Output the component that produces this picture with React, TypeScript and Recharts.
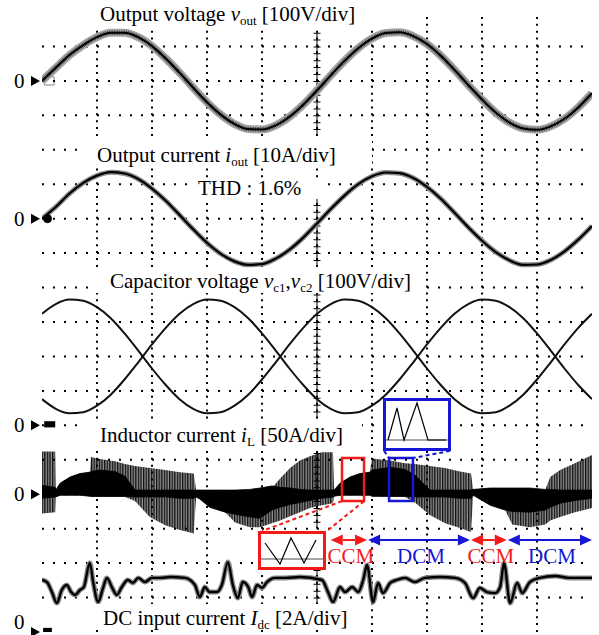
import React from "react";
import {
  ComposedChart,
  LineChart,
  Line,
  Area,
  XAxis,
  YAxis,
  ReferenceLine,
  ReferenceArea,
  ReferenceDot,
} from "recharts";

// scope screen: 10 x 18 divisions
const X_DIVS = 10;
const Y_DIVS = 18;
const SINE_STEP = 0.25; // div between samples of the sine traces

// channel zero markers (div from bottom) and scale per div
const ZERO_VOUT = 16;
const ZERO_IOUT = 12;
const ZERO_VC = 6;
const ZERO_IL = 4;
const ZERO_IDC = 0;
const VOUT_PER_DIV = 100; // V
const IOUT_PER_DIV = 10; // A
const VC_PER_DIV = 100; // V
const IL_PER_DIV = 50; // A
const IDC_PER_DIV = 2; // A

// output voltage v_out [V], one value every 0.25 div
const vout = [0, 38, 75, 104, 127, 140, 140, 127, 101, 65, 24, -20, -62, -98, -125, -140, -141, -129, -104, -69, -28, 16, 58, 95, 123, 139, 141, 130, 107, 73, 32, -12, -54, -92, -121, -138, -142, -132, -110, -77, -36];
// output current i_out [A]
const iout = [0, 3.4, 7.3, 10.4, 12.5, 13.5, 13.1, 11.5, 8.7, 5.2, 1.1, -3.1, -7.0, -10.2, -12.4, -13.4, -13.2, -11.6, -9.0, -5.5, -1.4, 2.8, 6.7, 10.0, 12.3, 13.4, 13.2, 11.8, 9.2, 5.8, 1.7, -2.5, -6.4, -9.7, -12.1, -13.4, -13.3, -12.0, -9.5, -6.1, -2.1];
// capacitor voltages [V]
const vc1 = [324, 352, 365, 362, 343, 311, 267, 217, 165, 117, 76, 48, 35, 38, 57, 89, 133, 183, 235, 283, 324, 352, 365, 362, 343, 311, 267, 217, 165, 117, 76, 48, 35, 38, 57, 89, 133, 183, 235, 283, 324];
const vc2 = [76, 48, 35, 38, 57, 89, 133, 183, 235, 283, 324, 352, 365, 362, 343, 311, 267, 217, 165, 117, 76, 48, 35, 38, 57, 89, 133, 183, 235, 283, 324, 352, 365, 362, 343, 311, 267, 217, 165, 117, 76];

// inductor current i_L [A]: switching envelope and dense core, at these times (div)
const iLx = [0, 0.24, 0.25, 0.33, 0.51, 0.69, 0.87, 0.89, 1.05, 1.33, 1.51, 1.69, 1.96, 2.24, 2.51, 2.76, 2.8, 2.87, 3.05, 3.33, 3.51, 3.78, 3.96, 4.18, 4.33, 4.51, 4.69, 4.87, 5.09, 5.29, 5.31, 5.42, 5.6, 5.78, 5.96, 6.0, 6.33, 6.6, 6.78, 7.05, 7.33, 7.6, 7.8, 7.84, 8.15, 8.42, 8.55, 8.87, 9.15, 9.24, 9.42, 9.69, 10];
const iLhi = [62, 62, 6, 16, 25, 30, 32, 54, 51, 48, 44, 41, 38, 35, 32, 30, 6, 6, 6, 6, 6, 6, 7, 9, 23, 38, 49, 55, 61, 61, 6, 16, 25, 30, 32, 52, 49, 45, 44, 41, 38, 33, 30, 7, 9, 9, 9, 7, 6, 25, 35, 45, 57];
const iLlo = [-28, -26, -4, -1.5, -1.5, -1.5, -3, -4, -4, -4, -4, -10, -33, -45, -52, -57, -4, -7, -19, -26, -41, -48, -48, -42, -38, -32, -26, -20, -16, -13, -3, -1.5, -1.5, -1.5, -1.5, -3, -4, -4, -12, -30, -42, -49, -55, -1.5, -16, -23, -44, -48, -44, -38, -33, -26, -20];
const iLcoreHi = [13, 10, 6, 16, 25, 30, 32, 33, 35, 33, 26, 6, 6, 6, 6, 6, 6, 6, 6, 6, 6, 7, 9, 12, 10, 9, 7, 6, 6, 6, 6, 16, 25, 30, 32, 35, 39, 36, 28, 6, 6, 6, 6, 7, 9, 9, 9, 9, 7, 7, 6, 6, 6];
const iLcoreLo = [-6, -4, -4, -1.5, -1.5, -1.5, -3, -3, -3, -3, -3, -4, -4, -4, -6, -6, -4, -7, -19, -26, -29, -33, -35, -23, -19, -15, -12, -9, -6, -4, -3, -1.5, -1.5, -1.5, -1.5, -3, -3, -3, -4, -4, -4, -6, -6, -1.5, -16, -23, -25, -26, -23, -19, -13, -9, -6];

// DC input current I_dc [A]
const idcX = [0, 0.09, 0.18, 0.27, 0.36, 0.45, 0.53, 0.6, 0.69, 0.76, 0.87, 0.93, 1.02, 1.11, 1.18, 1.27, 1.36, 1.45, 1.56, 1.65, 1.75, 1.87, 2.0, 2.15, 2.33, 2.6, 2.78, 2.87, 2.96, 3.05, 3.18, 3.27, 3.38, 3.47, 3.56, 3.65, 3.75, 3.82, 3.91, 4.0, 4.09, 4.24, 4.42, 4.69, 5.09, 5.2, 5.29, 5.42, 5.51, 5.64, 5.75, 5.84, 5.91, 6.02, 6.11, 6.2, 6.33, 6.45, 6.6, 6.78, 6.96, 7.24, 7.51, 7.69, 7.84, 7.96, 8.09, 8.24, 8.33, 8.4, 8.51, 8.64, 8.73, 8.87, 9.05, 9.33, 9.6, 10];
const idc = [3.02, 2.9, 2.32, 1.68, 2.44, 2.73, 2.32, 2.15, 2.44, 2.61, 4.01, 2.9, 1.74, 2.56, 3.14, 2.61, 2.15, 2.61, 3.02, 2.85, 3.14, 2.9, 3.14, 3.14, 3.19, 3.14, 2.73, 2.03, 2.61, 2.32, 2.32, 2.73, 4.06, 2.73, 1.97, 2.9, 2.61, 2.03, 2.73, 2.56, 2.9, 3.14, 3.14, 3.19, 3.02, 2.32, 1.74, 2.61, 2.32, 2.61, 2.32, 3.02, 3.89, 1.74, 2.85, 2.26, 2.85, 3.02, 3.14, 2.9, 3.14, 3.19, 3.14, 2.85, 1.97, 2.56, 2.32, 2.26, 2.61, 4.01, 1.68, 2.85, 2.26, 2.9, 3.14, 3.25, 3.14, 3.14];

// operating modes along the time axis
const modeNames = ["CCM", "DCM", "CCM", "DCM"];
const modeFrom = [5.25, 5.93, 7.8, 8.47];
const modeTo = [5.91, 7.78, 8.45, 10];

// zoomed insets: one CCM ripple and DCM pulses (arbitrary units)
const ccmT = [0, 15, 26, 39, 51];
const ccmI = [16, -5, 21, -4, 19];
const dcmT = [0, 9, 16, 29, 40, 58];
const dcmI = [0, 32, 0, 37, 0, 0];

const RED = "#f41a1a";
const BLUE = "#1616d4";
const SERIF = "'Liberation Serif', 'Times New Roman', serif";
const MODE_ROW = 2.67; // div where the mode arrows sit

const sineRows = vout.map((v, k) => ({
  x: k * SINE_STEP,
  vout: ZERO_VOUT + v / VOUT_PER_DIV,
  iout: ZERO_IOUT + iout[k] / IOUT_PER_DIV,
  vc1: ZERO_VC + vc1[k] / VC_PER_DIV,
  vc2: ZERO_VC + vc2[k] / VC_PER_DIV,
}));
const iLRows = iLx.map((x, k) => ({
  x,
  env: [ZERO_IL + iLlo[k] / IL_PER_DIV, ZERO_IL + iLhi[k] / IL_PER_DIV],
  core: [ZERO_IL + iLcoreLo[k] / IL_PER_DIV, ZERO_IL + iLcoreHi[k] / IL_PER_DIV],
}));
const idcRows = idcX.map((x, k) => ({ x, idc: ZERO_IDC + idc[k] / IDC_PER_DIV }));
const ccmRows = ccmT.map((t, k) => ({ t, i: ccmI[k] }));
const dcmRows = dcmT.map((t, k) => ({ t, i: dcmI[k] }));

const minorX = Array.from({ length: X_DIVS * 5 + 1 }, (_, k) => k / 5);
const minorY = Array.from({ length: Y_DIVS * 5 + 1 }, (_, k) => k / 5);
const majorX = Array.from({ length: X_DIVS - 1 }, (_, k) => k + 1);
const majorY = Array.from({ length: Y_DIVS - 1 }, (_, k) => k + 1);
const centerSpans = [[17.4, 14.4], [12.6, 10.6], [9.8, 6.2], [5.2, 3.0], [1.8, 0.8]];

const ZeroMark = (props: any) => {
  const vb = props.viewBox;
  if (!vb) return null;
  const { x, y } = vb;
  // the lowest marker sits on the frame edge: keep its digit inside the page
  const base = Math.min(y + 7, 629);
  return (
    <g>
      <text x={x - 28} y={base} fontFamily={SERIF} fontSize={21} fill="#000">0</text>
      <polygon points={`${x - 11},${y - 5} ${x - 11},${y + 5} ${x - 2},${y}`} fill="#000" />
    </g>
  );
};

const ModeArrow = (props: any) => {
  const { x1, y1, x2, color, name } = props;
  const a = 12;
  const h = 5.5;
  return (
    <g>
      <line x1={x1 + a} y1={y1} x2={x2 - a} y2={y1} stroke={color} strokeWidth={2} />
      <polygon points={`${x1},${y1} ${x1 + a},${y1 - h} ${x1 + a},${y1 + h}`} fill={color} />
      <polygon points={`${x2},${y1} ${x2 - a},${y1 - h} ${x2 - a},${y1 + h}`} fill={color} />
      <text x={(x1 + x2) / 2 + 2} y={y1 + 23} textAnchor="middle" fontFamily={SERIF} fontSize={21} fill={color}>
        {name}
      </text>
    </g>
  );
};

const Sub = ({ children }: any) => (
  <tspan fontSize={13} dy={4}>{children}</tspan>
);

const Title = ({ box, tx, ty, children }: any) => (
  <g>
    <rect x={box[0]} y={box[1]} width={box[2]} height={box[3]} fill="#fff" />
    <text x={tx} y={ty} fontFamily={SERIF} fontSize={21} fill="#000" style={{ whiteSpace: "pre" }}>
      {children}
    </text>
  </g>
);

export default function App() {
  return (
    <div style={{ position: "absolute", left: 0, top: 0, width: 599, height: 635, background: "#fff", overflow: "hidden" }}>
      <svg width={0} height={0} style={{ position: "absolute" }}>
        <defs>
          <pattern id="dcmHatch" width={2.6} height={10} patternUnits="userSpaceOnUse">
            <rect width={2.6} height={10} fill="#8e8e8e" />
            <rect width={1.3} height={10} fill="#111" />
          </pattern>
        </defs>
      </svg>

      <ComposedChart width={599} height={635} data={sineRows} margin={{ top: 12, right: 7, bottom: 3, left: 42 }}>
        <XAxis type="number" dataKey="x" domain={[0, X_DIVS]} ticks={minorX} tick={false} tickSize={4} mirror height={0}
          axisLine={{ stroke: "#000", strokeWidth: 1.5 }} tickLine={{ stroke: "#000" }} allowDataOverflow />
        <XAxis xAxisId="top" orientation="top" type="number" domain={[0, X_DIVS]} ticks={minorX} tick={false} tickSize={4} mirror height={0}
          axisLine={{ stroke: "#000", strokeWidth: 1.5 }} tickLine={{ stroke: "#000" }} allowDataOverflow />
        <YAxis type="number" domain={[0, Y_DIVS]} ticks={minorY} tick={false} tickSize={4} mirror width={0}
          axisLine={{ stroke: "#000", strokeWidth: 1.5 }} tickLine={{ stroke: "#000" }} allowDataOverflow />
        <YAxis yAxisId="right" orientation="right" type="number" domain={[0, Y_DIVS]} ticks={minorY} tick={false} tickSize={4} mirror width={0}
          axisLine={{ stroke: "#000", strokeWidth: 1.5 }} tickLine={{ stroke: "#000" }} allowDataOverflow />

        {majorX.map((v) => (
          <ReferenceLine key={"gx" + v} x={v} stroke="#000" strokeWidth={2} strokeDasharray="2 4.889" />
        ))}
        {majorY.map((v) => (
          <ReferenceLine key={"gy" + v} y={v} stroke="#000" strokeWidth={2} strokeDasharray="2 9" />
        ))}
        {centerSpans.map((s, k) => (
          <ReferenceLine key={"c" + k} segment={[{ x: X_DIVS / 2, y: s[0] }, { x: X_DIVS / 2, y: s[1] }]} stroke="#000" strokeWidth={1} />
        ))}
        {centerSpans.map((s, k) => (
          <ReferenceLine key={"ct" + k} segment={[{ x: X_DIVS / 2, y: s[0] }, { x: X_DIVS / 2, y: s[1] }]} stroke="#000" strokeWidth={7} strokeDasharray="1 5.889" />
        ))}

        {/* output voltage */}
        <Line dataKey="vout" type="monotone" stroke="#a4a4a4" strokeWidth={8} dot={false} isAnimationActive={false} />
        <Line dataKey="vout" type="monotone" stroke="#3a3a3a" strokeWidth={4.5} strokeDasharray="0.8 0.9" dot={false} isAnimationActive={false} />
        <Line dataKey="vout" type="monotone" stroke="#000" strokeWidth={2} dot={false} isAnimationActive={false} />
        {/* output current */}
        <Line dataKey="iout" type="monotone" stroke="#8c8c8c" strokeWidth={5} dot={false} isAnimationActive={false} />
        <Line dataKey="iout" type="monotone" stroke="#000" strokeWidth={2.2} dot={false} isAnimationActive={false} />
        {/* capacitor voltages */}
        <Line dataKey="vc1" type="monotone" stroke="#111" strokeWidth={2} dot={false} isAnimationActive={false} />
        <Line dataKey="vc2" type="monotone" stroke="#111" strokeWidth={2} dot={false} isAnimationActive={false} />
        {/* inductor current */}
        <Area data={iLRows} dataKey="env" type="linear" stroke="none" fill="url(#dcmHatch)" fillOpacity={1} isAnimationActive={false} />
        <Area data={iLRows} dataKey="core" type="linear" stroke="#000" strokeWidth={0.8} fill="#000" fillOpacity={1} isAnimationActive={false} />
        {/* DC input current */}
        <Line data={idcRows} dataKey="idc" type="monotone" stroke="#8a8a8a" strokeWidth={5} dot={false} isAnimationActive={false} />
        <Line data={idcRows} dataKey="idc" type="monotone" stroke="#000" strokeWidth={2.4} dot={false} isAnimationActive={false} />

        {/* channel markers */}
        <ReferenceArea x1={0.04} x2={0.22} y1={ZERO_VOUT - 0.12} y2={ZERO_VOUT + 0.12} fill="#fff" fillOpacity={1} stroke="#888" />
        <ReferenceDot x={0.1} y={ZERO_IOUT} r={4} fill="#000" stroke="#000" />
        <ReferenceArea x1={0.04} x2={0.24} y1={ZERO_VC - 0.06} y2={ZERO_VC + 0.12} fill="#000" fillOpacity={1} stroke="none" />
        <ReferenceArea x1={0.02} x2={0.18} y1={ZERO_IDC} y2={ZERO_IDC + 0.12} fill="#000" fillOpacity={1} stroke="none" />

        {[ZERO_VOUT, ZERO_IOUT, ZERO_VC, ZERO_IL, ZERO_IDC].map((z) => (
          <ReferenceLine key={"z" + z} y={z} stroke="none" label={<ZeroMark />} />
        ))}

        {/* zoom windows and their leaders */}
        <ReferenceArea x1={5.455} x2={5.855} y1={3.8} y2={5.05} fill="none" stroke={RED} strokeWidth={2.5} />
        <ReferenceArea x1={6.31} x2={6.745} y1={3.8} y2={5.05} fill="none" stroke={BLUE} strokeWidth={2.5} />
        <ReferenceLine segment={[{ x: 5.455, y: 3.8 }, { x: 4.0, y: 2.93 }]} stroke={RED} strokeWidth={2} strokeDasharray="4 3" />
        <ReferenceLine segment={[{ x: 5.855, y: 3.8 }, { x: 5.18, y: 2.93 }]} stroke={RED} strokeWidth={2} strokeDasharray="4 3" />
        <ReferenceLine segment={[{ x: 6.22, y: 5.26 }, { x: 6.31, y: 5.05 }]} stroke={BLUE} strokeWidth={2} strokeDasharray="4 3" />
        <ReferenceLine segment={[{ x: 7.42, y: 5.26 }, { x: 6.745, y: 5.05 }]} stroke={BLUE} strokeWidth={2} strokeDasharray="4 3" />

        {modeNames.map((m, k) => (
          <ReferenceLine
            key={"m" + k}
            segment={[{ x: modeFrom[k], y: MODE_ROW }, { x: modeTo[k], y: MODE_ROW }]}
            shape={(p: any) => <ModeArrow {...p} name={m} color={m === "CCM" ? RED : BLUE} />}
          />
        ))}
      </ComposedChart>

      <svg width={599} height={635} style={{ position: "absolute", left: 0, top: 0 }}>
        <Title box={[78, 0, 304, 27]} tx={100} ty={21}>
          Output voltage <tspan fontStyle="italic">v</tspan><Sub>out</Sub><tspan dy={-4}> [100V/div]</tspan>
        </Title>
        <Title box={[78, 139, 294, 29]} tx={97} ty={162}>
          Output current <tspan fontStyle="italic">i</tspan><Sub>out</Sub><tspan dy={-4}> [10A/div]</tspan>
        </Title>
        <Title box={[190, 178, 135, 21]} tx={198} ty={195}>
          THD : 1.6%
        </Title>
        <Title box={[95, 268, 325, 25]} tx={110} ty={288}>
          Capacitor voltage <tspan fontStyle="italic">v</tspan><Sub>c1</Sub><tspan dy={-4}>,</tspan><tspan fontStyle="italic">v</tspan><Sub>c2</Sub><tspan dy={-4}> [100V/div]</tspan>
        </Title>
        <Title box={[82, 421, 280, 28]} tx={100} ty={442}>
          Inductor current <tspan fontStyle="italic">i</tspan><Sub>L</Sub><tspan dy={-4}> [50A/div]</tspan>
        </Title>
        <Title box={[95, 604, 260, 23]} tx={103} ty={625}>
          DC input current <tspan fontStyle="italic">I</tspan><Sub>dc</Sub><tspan dy={-4}> [2A/div]</tspan>
        </Title>
      </svg>

      <div style={{ position: "absolute", left: 258, top: 531, width: 68, height: 39, border: `3px solid ${RED}`, boxSizing: "border-box", background: "#fff" }}>
        <LineChart width={62} height={33} data={ccmRows} margin={{ top: 0, right: 0, bottom: 0, left: 0 }}>
          <XAxis type="number" dataKey="t" domain={[-4, 58]} hide />
          <YAxis type="number" domain={[-8, 25]} hide />
          <ReferenceLine y={0} stroke="#888" strokeWidth={1.5} />
          <Line dataKey="i" type="linear" stroke="#000" strokeWidth={1.2} dot={false} isAnimationActive={false} />
        </LineChart>
      </div>
      <div style={{ position: "absolute", left: 383, top: 398, width: 68, height: 53, border: `3px solid ${BLUE}`, boxSizing: "border-box", background: "#fff" }}>
        <LineChart width={62} height={47} data={dcmRows} margin={{ top: 0, right: 0, bottom: 0, left: 0 }}>
          <XAxis type="number" dataKey="t" domain={[-2, 60]} hide />
          <YAxis type="number" domain={[-8, 39]} hide />
          <ReferenceLine y={0} stroke="#888" strokeWidth={1.5} />
          <Line dataKey="i" type="linear" stroke="#000" strokeWidth={1.2} dot={false} isAnimationActive={false} />
        </LineChart>
      </div>
    </div>
  );
}
